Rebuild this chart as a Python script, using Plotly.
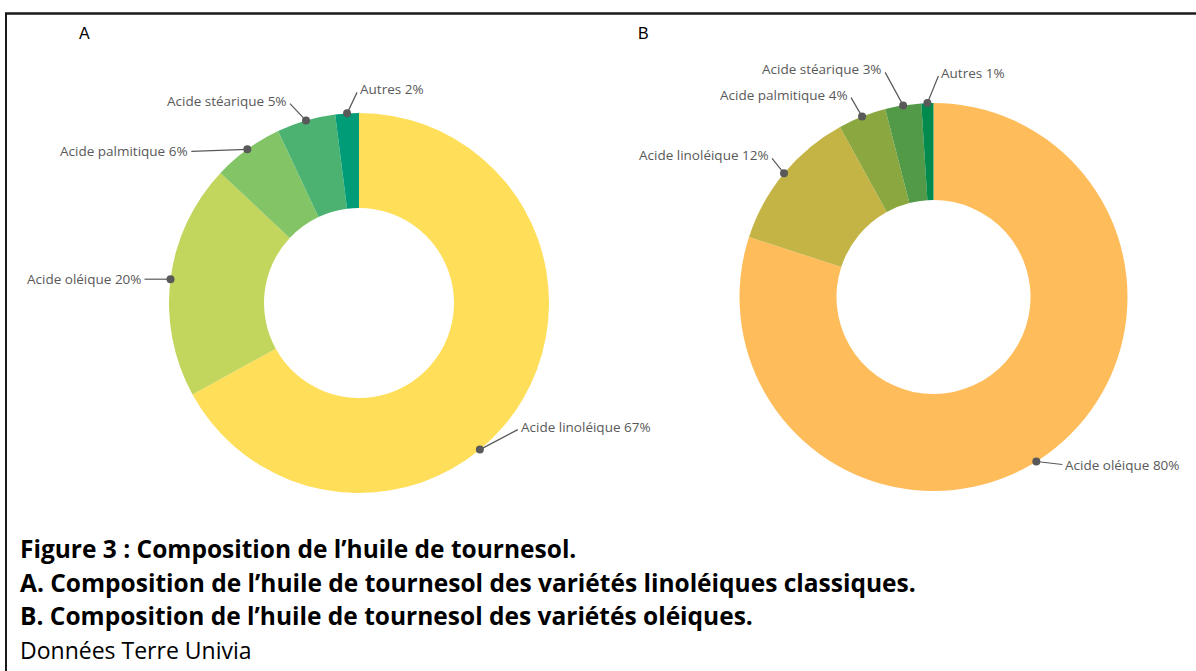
import math
import plotly.graph_objects as go

W, H = 1196, 671

# ---- data ----
labels_A = ["Acide linoléique", "Acide oléique", "Acide palmitique", "Acide stéarique", "Autres"]
values_A = [67, 20, 6, 5, 2]
colors_A = ["#FFDE59", "#C2D55C", "#82C466", "#4CB272", "#009B77"]

labels_B = ["Acide oléique", "Acide linoléique", "Acide palmitique", "Acide stéarique", "Autres"]
values_B = [80, 12, 4, 3, 1]
colors_B = ["#FFBC5A", "#C4B445", "#8BA73F", "#529A47", "#008A4E"]

caption_lines = [
    ("Figure 3 : Composition de l’huile de tournesol.", True),
    ("A. Composition de l’huile de tournesol des variétés linoléiques classiques.", True),
    ("B. Composition de l’huile de tournesol des variétés oléiques.", True),
    ("Données Terre Univia", False),
]

# ---- layout / position config (pixels) ----
charts = [
    dict(name="A", labels=labels_A, values=values_A, colors=colors_A, cx=359, cy=303, r=190,
         letter_pos=(84, 33),
         angle_override={0: 140.5},
         offsets=[(38, -20, "left"), (-26, 0, "right"), (-56, 2, "right"), (-16, -17, "right"), (10, -21, "left")]),
    dict(name="B", labels=labels_B, values=values_B, colors=colors_B, cx=933.5, cy=297, r=194,
         letter_pos=(643, 33),
         angle_override={0: 148},
         offsets=[(26, 3, "left"), (-12, -15, "right"), (-11, -19, "right"), (-18, -33, "right"), (11, -27, "left")]),
]

fig = go.Figure()
annotations = []
shapes = []
label_color = "#595959"
label_font = dict(family="Open Sans, sans-serif", size=13.5, color=label_color)

for c in charts:
    cx, cy, r = c["cx"], c["cy"], c["r"]
    fig.add_trace(go.Pie(
        labels=c["labels"], values=c["values"], hole=0.5, sort=False,
        direction="clockwise", rotation=0,
        marker=dict(colors=c["colors"], line=dict(width=0)),
        textinfo="none", hoverinfo="label+percent", showlegend=False,
        domain=dict(x=[(cx - r) / W, (cx + r) / W], y=[(H - cy - r) / H, (H - cy + r) / H]),
    ))
    total = sum(c["values"])
    cum = 0
    for i, (lab, v) in enumerate(zip(c["labels"], c["values"])):
        mid = (cum + v / 2) / total * 360
        cum += v
        ang = math.radians(c["angle_override"].get(i, mid))
        px = cx + r * math.sin(ang)
        py = cy - r * math.cos(ang)
        dx, dy, side = c["offsets"][i]
        ex, ey = px + dx, py + dy
        shapes.append(dict(type="line", xref="x", yref="y", x0=px, y0=py, x1=ex, y1=ey,
                           layer="above", line=dict(color=label_color, width=1.2)))
        shapes.append(dict(type="circle", xref="x", yref="y", x0=px - 4, x1=px + 4, y0=py - 4, y1=py + 4,
                           layer="above", fillcolor=label_color, line=dict(width=0)))
        pct = round(v / total * 100)
        annotations.append(dict(
            x=ex + (1 if side == "left" else -1), y=ey - (3 if dy < -5 else 0), xref="x", yref="y",
            text=f"{lab} {pct}%", showarrow=False,
            xanchor=side, yanchor="middle", font=label_font))
    lx, ly = c["letter_pos"]
    annotations.append(dict(x=lx, y=ly, xref="x", yref="y", text=c["name"], showarrow=False,
                            xanchor="center", yanchor="middle",
                            font=dict(family="Liberation Sans, Arial, sans-serif", size=16, color="#000")))

# caption
cap_y = [548, 582, 615, 650]
for (txt, bold), y in zip(caption_lines, cap_y):
    annotations.append(dict(x=18, y=y, xref="x", yref="y",
                            text=f"<b>{txt}</b>" if bold else txt, showarrow=False,
                            xanchor="left", yanchor="middle",
                            font=dict(family="Open Sans, sans-serif", size=24.5 if bold else 23, color="#000")))

shapes += [
    dict(type="line", xref="x", yref="y", x0=5, x1=W, y0=13.5, y1=13.5, line=dict(color="#1a1a1a", width=2.5)),
    dict(type="line", xref="x", yref="y", x0=6, x1=6, y0=13, y1=H, line=dict(color="#1a1a1a", width=2)),
]

fig.update_layout(
    width=W, height=H, margin=dict(l=0, r=0, t=0, b=0),
    paper_bgcolor="white", plot_bgcolor="rgba(0,0,0,0)",
    xaxis=dict(range=[0, W], visible=False, fixedrange=True),
    yaxis=dict(range=[H, 0], visible=False, fixedrange=True),
    annotations=annotations, shapes=shapes, showlegend=False,
)

fig.write_html("out.html", config={"displayModeBar": False},
               post_script="document.body.style.margin='0px';document.body.style.overflow='hidden';")
